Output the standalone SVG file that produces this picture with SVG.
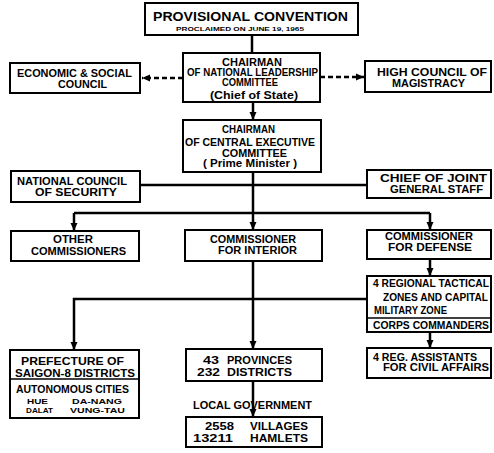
<svg xmlns="http://www.w3.org/2000/svg" width="494" height="453" viewBox="0 0 494 453">
  <style>
    .box { fill: #fff; stroke: #000; stroke-width: 2; }
    .div { stroke: #000; stroke-width: 1.6; }
    .ln { fill: none; stroke: #000; stroke-width: 2.5; }
    .dash { fill: none; stroke: #000; stroke-width: 2.5; stroke-dasharray: 5 3; }
    text { font-family: "Liberation Sans", Arial, sans-serif; font-size: 10px; font-weight: bold; fill: #000; }
    .title { font-size: 13.5px; font-weight: 900; }
    .small { font-size: 6px; }
    .tight { font-size: 7.8px; }
  </style>
  <defs>
    <marker id="arrow" markerUnits="userSpaceOnUse" markerWidth="8" markerHeight="8" viewBox="0 0 8 8" refX="8" refY="4" orient="auto">
      <path d="M0,0.5 L8,4 L0,7.5 Z" fill="#000"/>
    </marker>
  </defs>

  <rect width="494" height="453" fill="#fff"/>

  <!-- connectors -->
  <g id="connectors">
    <path class="ln" d="M252,35 V53"/>
    <path class="ln" d="M253,102 V120" marker-end="url(#arrow)"/>
    <path class="dash" d="M183,78 H142" marker-end="url(#arrow)"/>
    <path class="dash" d="M320,77 H364" marker-end="url(#arrow)"/>
    <path class="ln" d="M253,172 V230" marker-end="url(#arrow)"/>
    <path class="ln" d="M140,185 H367"/>
    <path class="ln" d="M74,213 H430"/>
    <path class="ln" d="M74,213 V231" marker-end="url(#arrow)"/>
    <path class="ln" d="M430,213 V230" marker-end="url(#arrow)"/>
    <path class="ln" d="M253,261 V349" marker-end="url(#arrow)"/>
    <path class="ln" d="M367,299 H74 V350" marker-end="url(#arrow)"/>
    <path class="ln" d="M430,259 V276" marker-end="url(#arrow)"/>
    <path class="ln" d="M430,332 V348" marker-end="url(#arrow)"/>
    <path class="ln" d="M253,381 V417" marker-end="url(#arrow)"/>
  </g>

  <g id="provisional-convention">
    <rect class="box" x="145" y="3" width="213" height="32"/>
    <text class="title" x="153" y="20.5" textLength="195" lengthAdjust="spacingAndGlyphs">PROVISIONAL CONVENTION</text>
    <text class="small" x="176" y="30.5" textLength="128" lengthAdjust="spacingAndGlyphs">PROCLAIMED ON JUNE 19, 1965</text>
  </g>

  <g id="national-leadership">
    <rect class="box" x="183" y="53" width="137" height="49"/>
    <text x="222" y="65.5" textLength="60" lengthAdjust="spacingAndGlyphs">CHAIRMAN</text>
    <text x="187" y="75.5" textLength="131" lengthAdjust="spacingAndGlyphs">OF NATIONAL LEADERSHIP</text>
    <text x="222" y="85.5" textLength="56" lengthAdjust="spacingAndGlyphs">COMMITTEE</text>
    <text x="210" y="99" textLength="88" lengthAdjust="spacingAndGlyphs">(Chief of State)</text>
  </g>

  <g id="economic-social">
    <rect class="box" x="10" y="63" width="130" height="30"/>
    <text x="17" y="76.5" textLength="115" lengthAdjust="spacingAndGlyphs">ECONOMIC &amp; SOCIAL</text>
    <text x="58" y="87.5" textLength="49" lengthAdjust="spacingAndGlyphs">COUNCIL</text>
  </g>

  <g id="high-council">
    <rect class="box" x="365" y="61" width="126" height="31"/>
    <text x="377" y="75.5" textLength="110" lengthAdjust="spacingAndGlyphs">HIGH  COUNCIL  OF</text>
    <text x="392" y="86.5" textLength="73" lengthAdjust="spacingAndGlyphs">MAGISTRACY</text>
  </g>

  <g id="central-executive">
    <rect class="box" x="183" y="120" width="138" height="52"/>
    <text x="222" y="132.5" textLength="53" lengthAdjust="spacingAndGlyphs">CHAIRMAN</text>
    <text x="185" y="145.5" textLength="130" lengthAdjust="spacingAndGlyphs">OF CENTRAL EXECUTIVE</text>
    <text x="222" y="156.5" textLength="65" lengthAdjust="spacingAndGlyphs">COMMITTEE</text>
    <text x="203" y="166.5" textLength="94" lengthAdjust="spacingAndGlyphs">( Prime  Minister )</text>
  </g>

  <g id="security-council">
    <rect class="box" x="11" y="171" width="129" height="31"/>
    <text x="17" y="184.5" textLength="110" lengthAdjust="spacingAndGlyphs">NATIONAL  COUNCIL</text>
    <text x="35" y="195.5" textLength="82" lengthAdjust="spacingAndGlyphs">OF  SECURITY</text>
  </g>

  <g id="joint-staff">
    <rect class="box" x="367" y="170" width="124" height="28"/>
    <text x="380" y="181.5" textLength="107" lengthAdjust="spacingAndGlyphs">CHIEF   OF   JOINT</text>
    <text x="390" y="192.5" textLength="93" lengthAdjust="spacingAndGlyphs">GENERAL STAFF</text>
  </g>

  <g id="other-commissioners">
    <rect class="box" x="11" y="231" width="128" height="30"/>
    <text x="53" y="242.5" textLength="40" lengthAdjust="spacingAndGlyphs">OTHER</text>
    <text x="31" y="254.5" textLength="95" lengthAdjust="spacingAndGlyphs">COMMISSIONERS</text>
  </g>

  <g id="interior">
    <rect class="box" x="185" y="230" width="137" height="31"/>
    <text x="210" y="242.5" textLength="86" lengthAdjust="spacingAndGlyphs">COMMISSIONER</text>
    <text x="218" y="253.5" textLength="79" lengthAdjust="spacingAndGlyphs">FOR INTERIOR</text>
  </g>

  <g id="defense">
    <rect class="box" x="367" y="230" width="124" height="29"/>
    <text x="385" y="240" textLength="88" lengthAdjust="spacingAndGlyphs">COMMISSIONER</text>
    <text x="388" y="251" textLength="84" lengthAdjust="spacingAndGlyphs">FOR DEFENSE</text>
  </g>

  <g id="tactical-zones">
    <rect class="box" x="367" y="276" width="124" height="56"/>
    <line class="div" x1="367" y1="318" x2="491" y2="318"/>
    <text x="373" y="287" textLength="116" lengthAdjust="spacingAndGlyphs">4 REGIONAL TACTICAL</text>
    <text x="383" y="300.5" textLength="105" lengthAdjust="spacingAndGlyphs">ZONES AND CAPITAL</text>
    <text x="374" y="313.5" textLength="73" lengthAdjust="spacingAndGlyphs">MILITARY  ZONE</text>
    <text x="373" y="329" textLength="116" lengthAdjust="spacingAndGlyphs">CORPS COMMANDERS</text>
  </g>

  <g id="civil-assistants">
    <rect class="box" x="367" y="348" width="124" height="30"/>
    <text x="373" y="360.5" textLength="104" lengthAdjust="spacingAndGlyphs">4  REG. ASSISTANTS</text>
    <text x="383" y="371" textLength="106" lengthAdjust="spacingAndGlyphs">FOR CIVIL AFFAIRS</text>
  </g>

  <g id="saigon-prefecture">
    <rect class="box" x="10" y="350" width="129" height="68"/>
    <line class="div" x1="10" y1="379" x2="139" y2="379"/>
    <text x="21" y="364.5" textLength="103" lengthAdjust="spacingAndGlyphs">PREFECTURE  OF</text>
    <text x="15" y="376.5" textLength="120" lengthAdjust="spacingAndGlyphs">SAIGON-8 DISTRICTS</text>
    <text x="16" y="392.5" textLength="113" lengthAdjust="spacingAndGlyphs">AUTONOMOUS CITIES</text>
    <text class="tight" x="27" y="403.5" textLength="21" lengthAdjust="spacingAndGlyphs">HUE</text>
    <text class="tight" x="72" y="403.5" textLength="50" lengthAdjust="spacingAndGlyphs">DA-NANG</text>
    <text class="tight" x="26" y="412.5" textLength="27" lengthAdjust="spacingAndGlyphs">DALAT</text>
    <text class="tight" x="70" y="412.5" textLength="55" lengthAdjust="spacingAndGlyphs">VUNG-TAU</text>
  </g>

  <g id="provinces">
    <rect class="box" x="186" y="349" width="136" height="32"/>
    <text x="203" y="363.5" textLength="16" lengthAdjust="spacingAndGlyphs">43</text>
    <text x="227" y="363.5" textLength="65" lengthAdjust="spacingAndGlyphs">PROVINCES</text>
    <text x="197" y="375.5" textLength="23" lengthAdjust="spacingAndGlyphs">232</text>
    <text x="227" y="375.5" textLength="65" lengthAdjust="spacingAndGlyphs">DISTRICTS</text>
  </g>

  <g id="local-government-label">
    <text x="193" y="408.5" textLength="119" lengthAdjust="spacingAndGlyphs">LOCAL GOVERNMENT</text>
  </g>

  <g id="villages">
    <rect class="box" x="186" y="417" width="136" height="30"/>
    <text x="205" y="429.5" textLength="29" lengthAdjust="spacingAndGlyphs">2558</text>
    <text x="250" y="429.5" textLength="58" lengthAdjust="spacingAndGlyphs">VILLAGES</text>
    <text x="193" y="441.5" textLength="40" lengthAdjust="spacingAndGlyphs">13211</text>
    <text x="250" y="441.5" textLength="58" lengthAdjust="spacingAndGlyphs">HAMLETS</text>
  </g>
</svg>
